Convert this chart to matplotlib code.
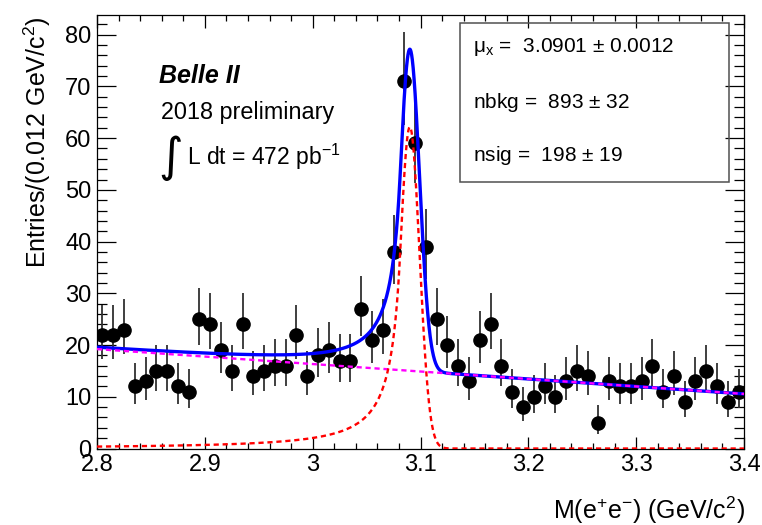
import numpy as np
import matplotlib
matplotlib.use("Agg")
import matplotlib.pyplot as plt
from matplotlib.ticker import MultipleLocator

plt.rcParams['font.family'] = ['Liberation Sans', 'DejaVu Sans']
plt.rcParams['mathtext.fontset'] = 'custom'
plt.rcParams['mathtext.rm'] = 'Liberation Sans'
plt.rcParams['mathtext.it'] = 'Liberation Sans:italic'
plt.rcParams['mathtext.bf'] = 'Liberation Sans:bold'

# ---------------- data ----------------
x_min, x_max = 2.8, 3.4
counts = [22, 22, 23, 12, 13, 15, 15, 12, 11, 25,
          24, 19, 15, 24, 14, 15, 16, 16, 22, 14,
          18, 19, 17, 17, 27, 21, 23, 38, 71, 59,
          39, 25, 20, 16, 13, 21, 24, 16, 11, 8,
          10, 12, 10, 13, 15, 14, 5, 13, 12, 12,
          13, 16, 11, 14, 9, 13, 15, 12, 9, 11]

# fit results (Crystal Ball signal + linear background)
mu_x = 3.0901
mu_err = 0.0012
sigma = 0.009
cb_alpha = 1.0
cb_n = 1.5
nsig, nsig_err = 198, 19
nbkg, nbkg_err = 893, 32
bkg_c1 = -0.97

x_ticks = [2.8, 2.9, 3.0, 3.1, 3.2, 3.3, 3.4]
x_ticklabels = ["2.8", "2.9", "3", "3.1", "3.2", "3.3", "3.4"]
y_ticks = [0, 10, 20, 30, 40, 50, 60, 70, 80]

# ---------------- derived ----------------
counts = np.array(counts, dtype=float)
nb = len(counts)
bw = (x_max - x_min) / nb
centers = x_min + bw * (np.arange(nb) + 0.5)
# approximate Poisson (Gehrels) 68% intervals
err_hi = np.sqrt(counts + 0.75) + 1.0
lam_lo = counts * (1 - 1 / (9 * np.maximum(counts, 1)) - 1 / (3 * np.sqrt(np.maximum(counts, 1)))) ** 3
err_lo = counts - lam_lo


def crystal_ball(x):
    t = (x - mu_x) / sigma
    A = (cb_n / cb_alpha) ** cb_n * np.exp(-cb_alpha ** 2 / 2)
    B = cb_n / cb_alpha - cb_alpha
    out = np.exp(-t ** 2 / 2)
    tail = t < -cb_alpha
    out[tail] = A * (B - t[tail]) ** (-cb_n)
    return out


xs = np.linspace(x_min, x_max, 3001)
sig_shape = crystal_ball(xs)
sig_norm = np.trapezoid(sig_shape, xs)
sig_curve = nsig * bw * sig_shape / sig_norm
bkg_curve = nbkg * bw / (x_max - x_min) * (1 + bkg_c1 * (xs - 0.5 * (x_min + x_max)))
tot_curve = sig_curve + bkg_curve

# ---------------- figure ----------------
W, H = 762, 525
fig = plt.figure(figsize=(W / 100, H / 100), dpi=100)
L, R, T, Bt = 97, 744, 15, 448.5
ax = fig.add_axes([L / W, 1 - Bt / H, (R - L) / W, (Bt - T) / H])

ax.errorbar(centers, counts, yerr=[err_lo, err_hi], fmt='o', color='black',
            ecolor='#303030', elinewidth=1.3, markersize=9.5, capsize=0, zorder=3)
ax.plot(xs, tot_curve, color='#0000ff', lw=2.4, zorder=4)
ax.plot(xs, bkg_curve, color='#ff00ff', lw=1.7, ls=(0, (2.2, 1.6)), zorder=5)
ax.plot(xs, sig_curve, color='#ff0000', lw=1.7, ls=(0, (2.2, 1.6)), zorder=6)

ax.set_xlim(x_min, x_max)
ax.set_ylim(0, 83.8)
ax.set_xticks(x_ticks)
ax.set_xticklabels(x_ticklabels)
ax.set_yticks(y_ticks)
ax.xaxis.set_minor_locator(MultipleLocator(0.02))
ax.yaxis.set_minor_locator(MultipleLocator(2))
ax.tick_params(which='both', direction='in', top=True, right=True, labelsize=17,
               width=0.9, colors='black')
ax.tick_params(axis='x', which='major', length=9, pad=4)
ax.tick_params(axis='x', which='minor', length=4.5)
ax.tick_params(axis='y', which='major', length=14, pad=4)
ax.tick_params(axis='y', which='minor', length=7)
for s in ax.spines.values():
    s.set_linewidth(0.9)

fig.text(37 / W, 1 - 16 / H, r"Entries/(0.012 GeV/c$^{2}$)", rotation=90,
         ha='center', va='top', fontsize=18)
fig.text(745 / W, 1 - 510 / H, r"M(e$^{+}$e$^{-}$) (GeV/c$^{2}$)",
         ha='right', va='center', fontsize=18)

fig.text(159 / W, 1 - 76 / H, "Belle II", fontsize=18, fontweight='bold',
         fontstyle='italic', ha='left', va='center')
fig.text(161 / W, 1 - 112 / H, "2018 preliminary", fontsize=16.8, ha='left', va='center')
fig.text(171 / W, 1 - 158 / H, "\u222B", fontsize=34, ha='center', va='center',
         family=['DejaVu Sans'])
fig.text(187 / W, 1 - 157 / H, r"L dt = 472 pb$^{-1}$", fontsize=16.5, ha='left', va='center')

# stats box
bx0, bx1, by0, by1 = 460, 729, 23, 182
box = plt.Rectangle((bx0 / W, 1 - by1 / H), (bx1 - bx0) / W, (by1 - by0) / H,
                    transform=fig.transFigure, fill=False, edgecolor='#505050', lw=1.1)
fig.add_artist(box)
fig.text(473 / W, 1 - 47 / H, "\u03bc$_{\\mathrm{x}}$ =  %.4f $\\pm$ %.4f" % (mu_x, mu_err),
         fontsize=15, ha='left', va='center')
fig.text(473 / W, 1 - 102 / H, "nbkg =  %d $\\pm$ %d" % (nbkg, nbkg_err),
         fontsize=15, ha='left', va='center')
fig.text(473 / W, 1 - 155 / H, "nsig =  %d $\\pm$ %d" % (nsig, nsig_err),
         fontsize=15, ha='left', va='center')

fig.savefig("out.png", dpi=100)
